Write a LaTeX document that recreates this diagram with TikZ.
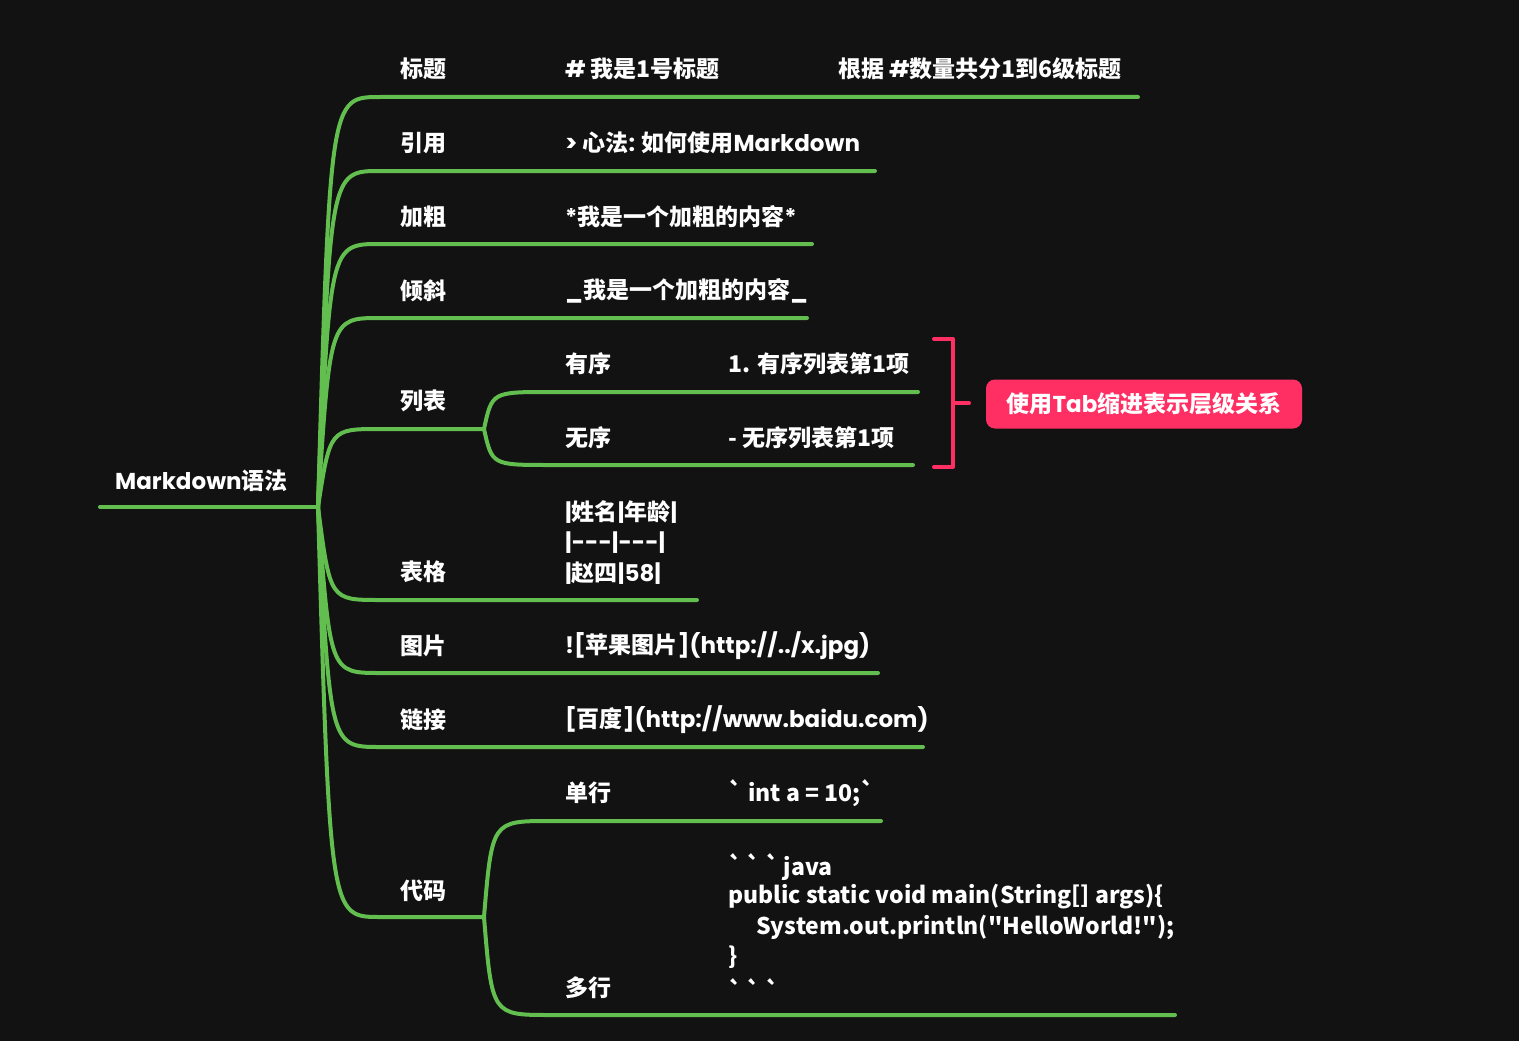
\documentclass[tikz,border=0pt]{standalone}
\usepackage{fontspec}
\newfontfamily\enfont{Poppins}
\newfontfamily\zhfont{Noto Sans CJK SC}
\newcommand\zh[1]{{\zhfont\bfseries #1}}
\definecolor{bg}{HTML}{121212}
\definecolor{gr}{HTML}{62BE4E}
\definecolor{pk}{HTML}{FF2E63}
\begin{document}
\begin{tikzpicture}[x=1pt,y=-1pt,
  lbl/.style={text=white, anchor=west, inner sep=0pt, font=\enfont\bfseries\fontsize{23}{28}\selectfont},
  codetxt/.style={text=white, anchor=west, inner sep=0pt, font=\zhfont\bfseries\fontsize{23}{27}\selectfont},
  branch/.style={draw=gr, line width=4pt, line cap=round},
  brk/.style={draw=pk, line width=4pt, line cap=round, line join=round},
  tag/.style={fill=pk, rounded corners=9pt, minimum width=316pt, minimum height=49pt, text=white, inner sep=0pt, font=\enfont\bfseries\fontsize{23}{27}\selectfont}]
\fill[bg] (0,0) rectangle (1519,1041);
\useasboundingbox (0,0) rectangle (1519,1041);

% hubs and line coordinates
\coordinate (rootL) at (100,507);
\coordinate (hub) at (318,507);
\foreach \n/\y/\e in {t1/97/1138, t2/171/875, t3/244/812, t4/318/807, t5/429/484, t6/600/697, t7/673/878, t8/747/923, t9/917/484}{
  \coordinate (\n s) at (380,\y);
  \coordinate (\n e) at (\e,\y);
}
\coordinate (l1s) at (550,392); \coordinate (l1e) at (918,392);
\coordinate (l2s) at (550,465); \coordinate (l2e) at (913,465);
\coordinate (c1s) at (550,821); \coordinate (c1e) at (881,821);
\coordinate (c2s) at (550,1015); \coordinate (c2e) at (1175,1015);

% connectors
\draw[branch] (rootL) -- (hub);
\foreach \n/\y in {t1/97, t2/171, t3/244, t4/318, t5/429, t6/600, t7/673, t8/747, t9/917}{
  \draw[branch] (hub) .. controls (330,\y) and (330,\y) .. (\n s) -- (\n e);
}
\draw[branch] (t5e) .. controls (492,392) and (492,392) .. (l1s) -- (l1e);
\draw[branch] (t5e) .. controls (492,465) and (492,465) .. (l2s) -- (l2e);
\draw[branch] (t9e) .. controls (492,821) and (492,821) .. (c1s) -- (c1e);
\draw[branch] (t9e) .. controls (492,1015) and (492,1015) .. (c2s) -- (c2e);

% texts
\node[lbl] (root) at (115,481) {Markdown\zh{语法}};
\node[lbl] (n1) at (400,69) {\zh{标题}};
\node[lbl] (n1a) at (565,69) {\# \zh{我是1号标题}};
\node[lbl] (n1b) at (838,69) {\zh{根据} \#\zh{数量共分1到6级标题}};
\node[lbl] (n2) at (400,143) {\zh{引用}};
\node[lbl] (n2a) at (565,143) {> \zh{心法}: \zh{如何使用}Markdown};
\node[lbl] (n3) at (400,217) {\zh{加粗}};
\node[lbl] (n3a) at (565,217) {*\zh{我是一个加粗的内容}*};
\node[lbl] (n4) at (400,291) {\zh{倾斜}};
\node[lbl] (n4a) at (565,291) {\_\zh{我是一个加粗的内容}\_};
\node[lbl] (n5) at (400,401) {\zh{列表}};
\node[lbl] (n5a) at (565,364) {\zh{有序}};
\node[lbl] (n5b) at (728,364) {\zh{1. 有序列表第1项}};
\node[lbl] (n5c) at (565,438) {\zh{无序}};
\node[lbl] (n5d) at (728,438) {\zh{- 无序列表第1项}};
\node[lbl] (n6) at (400,572) {\zh{表格}};
\node[lbl] (n6a) at (565,512) {|\zh{姓名}|\zh{年龄}|};
\node[lbl] (n6b) at (565,543) {|---|---|};
\node[lbl] (n6c) at (565,573) {|\zh{赵四}|58|};
\node[lbl] (n7) at (400,646) {\zh{图片}};
\node[lbl] (n7a) at (565,646) {![\zh{苹果图片}](http://../x.jpg)};
\node[lbl] (n8) at (400,720) {\zh{链接}};
\node[lbl] (n8a) at (565,720) {[\zh{百度}](http://www.baidu.com)};
\node[lbl] (n9) at (400,891) {\zh{代码}};
\node[lbl] (n9a) at (565,793) {\zh{单行}};
\node[codetxt] (n9b) at (728,793) {\textasciigrave{} int a = 10;\textasciigrave};
\node[lbl] (n9c) at (565,988) {\zh{多行}};
\node[codetxt] (k1) at (728,867) {\textasciigrave\,\textasciigrave\,\textasciigrave\,java};
\node[codetxt] (k2) at (728,897) {public static void main(String[] args)\{};
\node[codetxt] (k3) at (756,927) {System.out.println("HelloWorld!");};
\node[codetxt] (k4) at (728,957) {\}};
\node[codetxt] (k5) at (728,990) {\textasciigrave\,\textasciigrave\,\textasciigrave};

% bracket and tag
\coordinate (b1) at (934,339);
\coordinate (b2) at (953,339);
\coordinate (b3) at (953,467);
\coordinate (b4) at (934,467);
\coordinate (bm) at (953,403);
\coordinate (bt) at (969,403);
\draw[brk] (b1) -- (b2) -- (b3) -- (b4);
\draw[brk] (bm) -- (bt);
\node[tag] (tagbox) at (1144,404) {\zh{使用}Tab\zh{缩进表示层级关系}};
\end{tikzpicture}
\end{document}
